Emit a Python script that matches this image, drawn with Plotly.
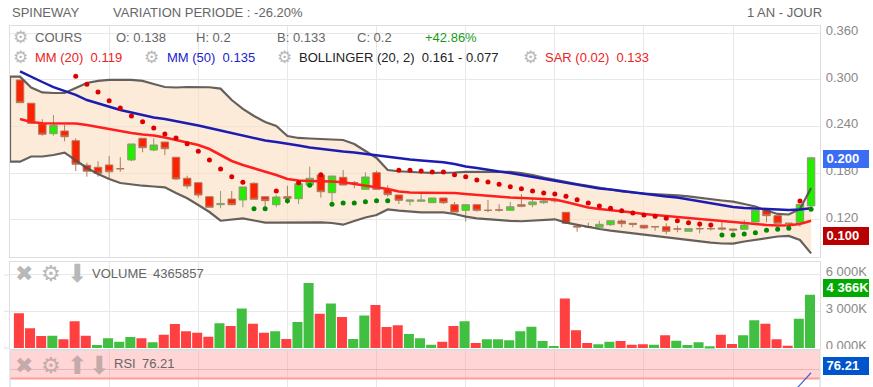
import plotly.graph_objects as go

W, H = 873, 387
FONT = "Liberation Sans"

opens = [.3000,.2700,.2434,.2309,.2344,.2219,.1903,.1877,.1907,.1860,.1971,.2250,.2099,.2202,.2006,.1736,.1679,.1499,.1396,.1469,.1457,.1671,.1499,.1396,.1499,.1473,.1649,.1778,.1550,.1748,.1680,.1594,.1808,.1594,.1521,.1440,.1440,.1422,.1482,.1396,.1324,.1396,.1325,.1329,.1324,.1396,.1396,.1422,.1449,.1298,.1122,.1114,.1106,.1139,.1187,.1157,.1131,.1114,.1113,.1085,.1054,.1089,.1089,.1097,.1084,.1080,.1174,.1328,.1255,.1158,.1165,.1380]
highs = [.3000,.2700,.2494,.2549,.2421,.2250,.1936,.1954,.2022,.2006,.2177,.2250,.2250,.2202,.2006,.1769,.1679,.1499,.1572,.1572,.1624,.1684,.1499,.1521,.1640,.1714,.1885,.1808,.1765,.1842,.1701,.1813,.1833,.1646,.1521,.1457,.1534,.1482,.1482,.1431,.1396,.1396,.1457,.1401,.1431,.1530,.1482,.1473,.1478,.1298,.1122,.1165,.1190,.1190,.1208,.1157,.1131,.1114,.1157,.1126,.1088,.1122,.1131,.1174,.1084,.1200,.1328,.1350,.1255,.1158,.1401,.2000]
lows = [.2708,.2443,.2283,.2283,.2211,.1829,.1756,.1756,.1736,.1820,.1954,.2070,.2083,.2035,.1714,.1602,.1486,.1363,.1350,.1388,.1363,.1466,.1363,.1363,.1405,.1405,.1649,.1486,.1435,.1649,.1607,.1594,.1594,.1499,.1405,.1388,.1440,.1422,.1405,.1302,.1178,.1306,.1298,.1306,.1324,.1363,.1363,.1405,.1422,.1157,.1049,.1093,.1106,.1122,.1106,.1106,.1084,.1062,.1016,.1041,.1054,.1028,.1062,.1062,.1049,.1080,.1174,.1170,.1157,.1113,.1113,.1330]
closes = [.2708,.2443,.2301,.2417,.2270,.1916,.1826,.1800,.1820,.1858,.2177,.2129,.2164,.2116,.1727,.1637,.1521,.1363,.1412,.1396,.1624,.1466,.1448,.1495,.1478,.1666,.1736,.1563,.1765,.1649,.1678,.1752,.1594,.1525,.1453,.1457,.1457,.1482,.1422,.1302,.1396,.1324,.1323,.1327,.1370,.1376,.1431,.1444,.1447,.1157,.1110,.1112,.1144,.1190,.1152,.1144,.1097,.1112,.1054,.1083,.1088,.1087,.1087,.1084,.1071,.1135,.1328,.1255,.1157,.1156,.1401,.2000]

boll_up = [.3042,.2903,.2839,.2832,.2832,.2897,.2961,.2987,.3000,.3000,.3000,.2987,.2948,.2909,.2903,.2909,.2909,.2906,.2888,.2742,.2627,.2537,.2459,.2408,.2279,.2254,.2247,.2241,.2237,.2228,.2177,.2087,.1997,.1842,.1826,.1817,.1810,.1804,.1804,.1810,.1817,.1817,.1820,.1817,.1817,.1804,.1778,.1746,.1714,.1688,.1662,.1637,.1611,.1592,.1566,.1553,.1540,.1534,.1521,.1515,.1502,.1482,.1469,.1450,.1435,.1405,.1373,.1322,.1277,.1270,.1341,.1610]
boll_lo = [.1949,.2016,.2016,.2035,.2065,.1971,.1868,.1791,.1727,.1675,.1656,.1640,.1630,.1620,.1547,.1478,.1392,.1302,.1190,.1206,.1221,.1193,.1165,.1165,.1167,.1170,.1170,.1170,.1161,.1139,.1187,.1232,.1264,.1335,.1319,.1309,.1298,.1298,.1298,.1277,.1242,.1221,.1208,.1200,.1187,.1183,.1193,.1206,.1208,.1165,.1135,.1110,.1084,.1062,.1045,.1028,.1007,.0987,.0968,.0955,.0936,.0920,.0908,.0897,.0895,.0923,.0946,.0968,.0987,.0994,.0942,.0770]
mm50 = [.3111,.3038,.2974,.2909,.2858,.2807,.2742,.2697,.2652,.2614,.2582,.2549,.2517,.2498,.2472,.2447,.2414,.2382,.2350,.2318,.2283,.2254,.2222,.2202,.2183,.2157,.2132,.2112,.2099,.2080,.2067,.2048,.2029,.2009,.1990,.1977,.1964,.1952,.1941,.1919,.1887,.1868,.1842,.1823,.1804,.1778,.1752,.1727,.1707,.1682,.1656,.1630,.1604,.1592,.1572,.1553,.1534,.1521,.1502,.1489,.1463,.1437,.1412,.1386,.1367,.1354,.1347,.1341,.1335,.1328,.1335,.1350]
mm20 = [.2498,.2459,.2443,.2443,.2443,.2440,.2421,.2395,.2366,.2337,.2318,.2299,.2286,.2260,.2228,.2196,.2164,.2112,.2035,.1958,.1907,.1864,.1823,.1778,.1727,.1707,.1701,.1701,.1694,.1684,.1662,.1637,.1617,.1598,.1566,.1553,.1550,.1550,.1550,.1547,.1534,.1521,.1508,.1495,.1489,.1482,.1476,.1469,.1463,.1431,.1392,.1360,.1341,.1328,.1315,.1296,.1277,.1264,.1244,.1232,.1219,.1206,.1193,.1180,.1167,.1154,.1142,.1135,.1129,.1131,.1148,.1190]

sar_red_idx = [5,6,7,8,9,10,11,12,13,14,15,16,17,18,19,20,23,25,27,34,35,36,37,38,39,40,41,42,43,44,45,46,47,48,49,50,51,52,53,54,55,56,57,58,59,60,61,62,70]
sar_red = [.3047,.2944,.2845,.2733,.2639,.2537,.2463,.2382,.2305,.2254,.2180,.2083,.1971,.1855,.1756,.1684,.1572,.1679,.1782,.1838,.1838,.1829,.1817,.1817,.1782,.1756,.1714,.1688,.1658,.1628,.1602,.1572,.1547,.1534,.1504,.1460,.1418,.1379,.1350,.1319,.1289,.1264,.1247,.1221,.1190,.1165,.1148,.1135,.1444]
sar_green_idx = [21,22,24,26,28,29,30,31,32,33,63,64,65,66,67,68,69,71]
sar_green = [.1345,.1345,.1448,.1646,.1401,.1418,.1418,.1435,.1448,.1448,.1007,.1007,.1019,.1036,.1067,.1080,.1093,.1337]

volumes = [2840,1611,983,1010,710,2184,1010,246,792,519,901,792,464,1092,1966,1365,1256,928,2020,1802,3249,1993,1256,1365,737,2129,5324,2812,3658,2539,737,2675,3522,1720,1856,1147,792,273,519,1802,2184,410,710,710,628,1365,1747,573,164,4068,1447,410,300,519,573,273,300,273,1037,601,246,464,137,1092,328,1037,2266,1993,710,191,2402,4366]
vol_up = "RRRGRRRGGGGRGRRRRRGRGRRGRGGRGRGGRRRGGGRRGRGGGGGGGRRRGGRRRGRGGGGRRGGRRRGG"
rsi_idx = [69, 70, 71]
rsi_vals = [50.0, 63.3, 76.21]

price_ticks = [.12, .18, .24, .30, .36]
vol_ticks = [0, 3000, 6000]
vol_labels = ["0 000K", "3 000K", "6 000K"]
x_grid = [8, 16, 24, 32, 40, 48, 56, 64]

idx = list(range(len(closes)))
GRID = "#e8e8e8"
BORDER = "#dedede"
XR = [-0.9, 71.8]


def px(x):
    return x / W


def py(y):
    return 1 - y / H


fig = go.Figure()

# Bollinger outline: open on the right-hand side, closed along the left edge
out_x = idx[::-1] + [XR[0], XR[0]] + idx
out_y = boll_up[::-1] + [boll_up[0], boll_lo[0]] + boll_lo

fig.add_trace(go.Candlestick(
    x=idx, open=opens, high=highs, low=lows, close=closes, whiskerwidth=0,
    increasing=dict(line=dict(color="#8f9a70", width=1), fillcolor="#22ee00"),
    decreasing=dict(line=dict(color="#b07a60", width=1), fillcolor="#ff2200"),
))
fig.add_trace(go.Scatter(x=out_x, y=out_y, mode="lines",
                         line=dict(color="rgba(85,80,75,0.9)", width=2.2), hoverinfo="skip"))
fig.add_trace(go.Scatter(x=idx, y=mm20, mode="lines", line=dict(color="#ff1f1f", width=2.6), hoverinfo="skip"))
fig.add_trace(go.Scatter(x=idx, y=mm50, mode="lines", line=dict(color="#1c1cb0", width=2.4), hoverinfo="skip"))
fig.add_trace(go.Scatter(x=sar_red_idx, y=sar_red, mode="markers",
                         marker=dict(color="#dd0000", size=5), hoverinfo="skip"))
fig.add_trace(go.Scatter(x=sar_green_idx, y=sar_green, mode="markers",
                         marker=dict(color="#008a00", size=5), hoverinfo="skip"))

vol_colors = ["#ff4040" if c == "R" else "#40bf40" for c in vol_up]
fig.add_trace(go.Bar(x=idx, y=volumes, width=0.9, offset=-0.55, marker=dict(color=vol_colors, line=dict(width=0)),
                     xaxis="x2", yaxis="y2", hoverinfo="skip"))
fig.add_trace(go.Scatter(x=rsi_idx, y=rsi_vals, mode="lines", line=dict(color="#4466cc", width=1.2),
                         xaxis="x3", yaxis="y3", hoverinfo="skip"))

axis_x = dict(range=XR, tickmode="array", tickvals=x_grid, showticklabels=False, showgrid=True, automargin=False,
              gridcolor=GRID, gridwidth=1.3, zeroline=False, showline=True, linecolor=BORDER,
              linewidth=1.3, mirror=True, ticks="", domain=[px(10), px(820)], fixedrange=True)
tick_font = dict(family=FONT, size=13, color="#888888")
axis_y = dict(side="right", showgrid=True, gridcolor=GRID, gridwidth=1.3, zeroline=False, ticks="", automargin=False,
              showline=True, linecolor=BORDER, linewidth=1.3, mirror=True, tickfont=tick_font,
              ticklabelstandoff=2, ticklabelshift=-3, fixedrange=True)

fig.update_layout(
    template="none",
    width=W, height=H, margin=dict(l=0, r=0, t=0, b=0, pad=0), autosize=False,
    paper_bgcolor="white", plot_bgcolor="white", showlegend=False, barmode="overlay",
    font=dict(family=FONT, size=13, color="#666666"), boxgap=0.33, boxgroupgap=0,
    xaxis=dict(axis_x, anchor="y", rangeslider=dict(visible=False)),
    xaxis2=dict(axis_x, anchor="y2"),
    xaxis3=dict(axis_x, anchor="y3"),
    yaxis=dict(axis_y, anchor="x", domain=[py(256.5), py(25.5)], range=[.0730, .3700],
               tickmode="array", tickvals=price_ticks, ticktext=["%.3f" % t for t in price_ticks]),
    yaxis2=dict(axis_y, anchor="x2", domain=[py(349), py(261.5)], range=[-82, 7093],
                tickmode="array", tickvals=vol_ticks, ticktext=vol_labels),
    yaxis3=dict(axis_y, anchor="x3", domain=[0, py(350.6)], range=[60.9, 100],
                tickmode="array", tickvals=[80], showticklabels=False,
                gridcolor="rgba(190,170,170,0.6)", showline=False, mirror=False),
)

band_x = [XR[0]] + idx + idx[::-1] + [XR[0]]
band_y = [boll_up[0]] + boll_up + boll_lo[::-1] + [boll_lo[0]]
band_path = "M " + " L ".join("%g,%g" % p for p in zip(band_x, band_y)) + " Z"

shapes = [
    dict(type="path", xref="x", yref="y", path=band_path, layer="between",
         fillcolor="rgba(252,223,193,0.62)", line=dict(width=0)),
    dict(type="rect", xref="x3", yref="y3", x0=XR[0], x1=XR[1], y0=70, y1=100, layer="between",
         fillcolor="rgba(255,150,150,0.4)", line=dict(width=0)),
    dict(type="line", xref="x3", yref="y3", x0=XR[0], x1=XR[1], y0=70, y1=70, layer="between",
         line=dict(color="#ff9c9c", width=2)),
    dict(type="line", xref="x3 domain", yref="y3 domain", x0=0, x1=0, y0=0, y1=1, line=dict(color=BORDER, width=1.3)),
    dict(type="line", xref="x3 domain", yref="y3 domain", x0=1, x1=1, y0=0, y1=1, line=dict(color=BORDER, width=1.3)),
    dict(type="rect", xref="paper", yref="paper", x0=px(822), x1=1, y0=py(356), y1=py(349),
         fillcolor="white", line=dict(width=0), layer="above"),
]
for v in vol_ticks:
    shapes.append(dict(type="line", xref="paper", yref="y2", x0=px(4), x1=px(10), y0=v, y1=v,
                       line=dict(color=GRID, width=1.3)))
fig.update_layout(shapes=shapes)


def text(x, y, s, color="#666666", size=13, family=FONT, anchor="left"):
    fig.add_annotation(xref="paper", yref="paper", x=px(x), y=py(y), text=s, showarrow=False, xanchor=anchor,
                       yanchor="middle", align="left", borderpad=0, borderwidth=0,
                       font=dict(family=family, size=size, color=color))


def icon(x, y, s, color="#b8b8b8", size=17):
    text(x, y, s, color=color, size=size, family="DejaVu Sans", anchor="center")


text(11.7, 12, "SPINEWAY")
text(113, 12, "VARIATION PERIODE : -26.20%")
text(822, 12, "1 AN - JOUR", anchor="right")

icon(20, 37, "⚙")
text(35, 37.3, "COURS")
text(116, 37.3, "O: 0.138")
text(196, 37.3, "H: 0.2")
text(277, 37.3, "B: 0.133")
text(356.7, 37.3, "C: 0.2")
text(425, 37.3, "+42.86%", color="#1a9a1a")

icon(20, 57, "⚙")
text(35, 57.3, "MM (20)  0.119", color="#ee2222")
icon(151, 57, "⚙")
text(166.7, 57.3, "MM (50)  0.135", color="#2222cc")
icon(284, 57, "⚙")
text(299.3, 57.3, "BOLLINGER (20, 2)  0.161 - 0.077", color="#222222")
icon(530, 57, "⚙")
text(545.3, 57.3, "SAR (0.02)  0.133", color="#ee2222")

icon(24, 273.5, "✖", size=22)
icon(50.7, 273.5, "⚙", size=22)
icon(77.3, 273.5, "⬇", size=25)
text(92.3, 273.3, "VOLUME")
text(153.3, 273.3, "4365857")

rsi_ic = "#c4aaaa"
icon(24, 365.5, "✖", color=rsi_ic, size=22)
icon(50.7, 365.5, "⚙", color=rsi_ic, size=22)
icon(77.3, 365.5, "⬆", color=rsi_ic, size=25)
icon(99.3, 365.5, "⬇", color=rsi_ic, size=25)
text(114, 363.3, "RSI")
text(141.7, 363.3, "76.21")


def badge(yc, s, bg):
    fig.add_annotation(xref="paper", yref="paper", x=px(822.7), y=py(yc), text="<b>\u00a0%s</b>" % s, showarrow=False,
                       xanchor="left", yanchor="middle", align="left", width=45.5, height=17.5, bgcolor=bg,
                       borderpad=0, borderwidth=0, font=dict(family=FONT, size=13, color="white"))


badge(158.5, "0.200", "#3b6cf4")
badge(236, "0.100", "#b80000")
badge(287.5, "4 366K", "#00aa00")
badge(365.5, "76.21", "#0055cc")

fig.write_html("out.html", config=dict(displayModeBar=False),
               post_script="document.body.style.margin='0';document.body.style.overflow='hidden';")
